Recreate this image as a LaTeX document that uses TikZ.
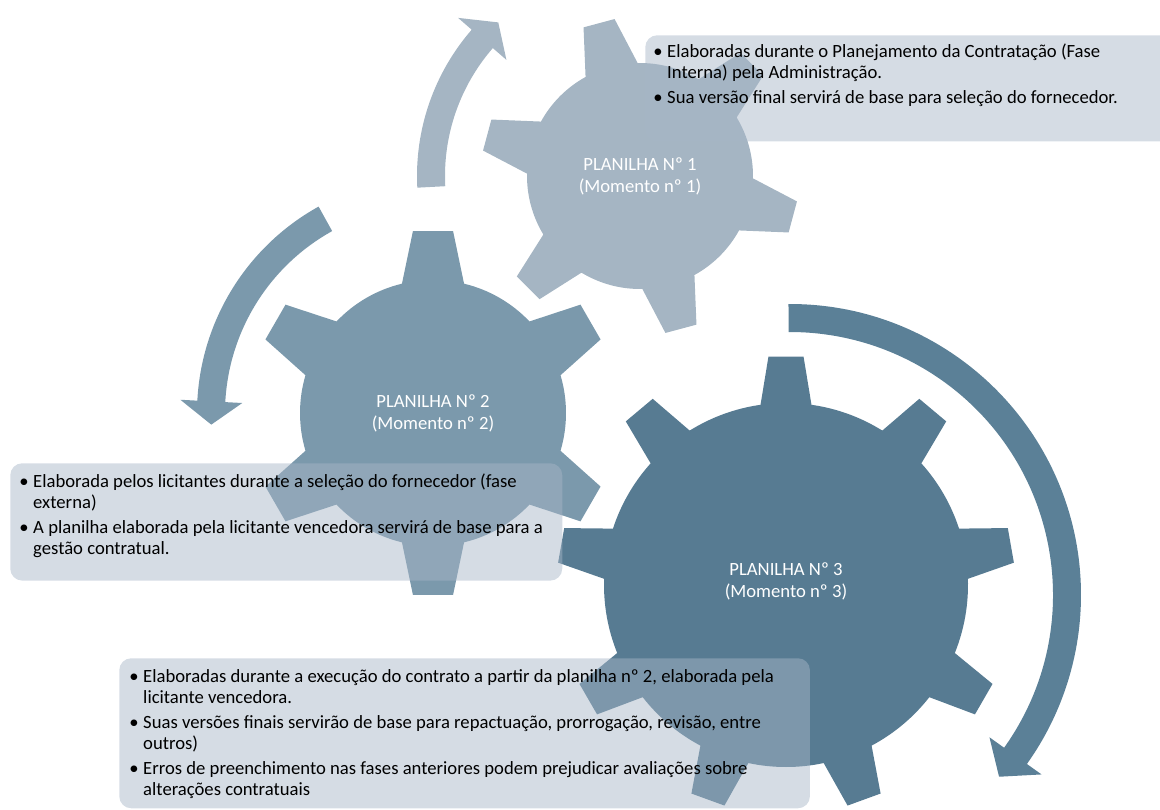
\documentclass[tikz,border=0pt]{standalone}
\usepackage{fontspec}
\setmainfont{Carlito}

\definecolor{gearA}{RGB}{165,181,195}
\definecolor{gearB}{RGB}{123,153,172}
\definecolor{gearC}{RGB}{87,123,146}
\definecolor{arrowC}{RGB}{91,128,151}
\definecolor{boxfill}{RGB}{167,182,199}

% colour, centre, teeth, body radius, tip radius, base half angle, tip half angle, first tooth
\newcommand{\gear}[8]{%
	\fill[#1, shift={#2}] ({#8+#6}:#4)
		\foreach \k in {1,...,#3}{
			arc[start angle={#8+(\k-1)*360/#3+#6}, end angle={#8+\k*360/#3-#6}, radius=#4]
			-- ({#8+\k*360/#3-#7}:#5) -- ({#8+\k*360/#3+#7}:#5)
			-- ({#8+\k*360/#3+#6}:#4)
		} -- cycle;
}

% colour, centre, mid radius, half width, start angle, head angle, tip angle, barb
\newcommand{\turnarrow}[8]{%
	\fill[#1, shift={#2}] ({#5}:{#3+#4}) arc[start angle=#5, end angle=#6, radius={#3+#4}]
		-- ({#6}:{#3+#8}) -- ({#7}:#3) -- ({#6}:{#3-#8}) -- ({#6}:{#3-#4})
		arc[start angle=#6, end angle=#5, radius={#3-#4}] -- cycle;
}

\begin{document}
\begin{tikzpicture}[x=0.75pt, y=0.75pt]
		\tikzset{lbl/.style={text=white, align=center, font=\fontsize{14}{16.5}\selectfont}};
		\tikzset{box/.style={fill=boxfill, fill opacity=0.48, rounded corners=9pt, anchor=north west, inner sep=0pt}};
		\tikzset{note/.style={anchor=base west, inner sep=0pt, font=\fontsize{14}{15.75}\selectfont}};

		\useasboundingbox (0,0) rectangle (1160,-810);

		\gear{gearA}{(640,-176)}{6}{113}{159}{13.8}{5.8}{105}
		\gear{gearB}{(433,-413)}{6}{133}{183}{13.5}{6.3}{90}
		\gear{gearC}{(786,-585)}{9}{182}{229}{8.05}{4.4}{90}

		\turnarrow{gearA}{(640,-176)}{209}{14}{183}{139}{132.7}{32}
		\turnarrow{gearB}{(433,-413)}{222}{14}{119}{177}{183}{31}
		\turnarrow{arrowC}{(790,-595)}{277}{14}{90.3}{-35.5}{-41}{32}

		\node[lbl] (p1) at (640,-176) {PLANILHA Nº 1\\(Momento nº 1)};
		\node[lbl] (p2) at (433,-413) {PLANILHA Nº 2\\(Momento nº 2)};
		\node[lbl] (p3) at (786,-581) {PLANILHA Nº 3\\(Momento nº 3)};

		\node[box, minimum width=397.5pt, minimum height=79.5pt] (b1) at (645,-35) {};
		\node[box, minimum width=414pt, minimum height=88pt] (b2) at (10,-463) {};
		\node[box, minimum width=518pt, minimum height=112.5pt] (b3) at (119,-658) {};

		\node[note] (n1) at (653,-57) {\begin{tabular}[t]{@{}l@{\hspace{3.5pt}}l@{}}
			\textbullet & Elaboradas durante o Planejamento da Contratação (Fase\\
			& Interna) pela Administração.\\[3pt]
			\textbullet & Sua versão final servirá de base para seleção do fornecedor.
		\end{tabular}};

		\node[note] (n2) at (19,-487) {\begin{tabular}[t]{@{}l@{\hspace{3.5pt}}l@{}}
			\textbullet & Elaborada pelos licitantes durante a seleção do fornecedor (fase\\
			& externa)\\[3pt]
			\textbullet & A planilha elaborada pela licitante vencedora servirá de base para a\\
			& gestão contratual.
		\end{tabular}};

		\node[note] (n3) at (129,-682) {\begin{tabular}[t]{@{}l@{\hspace{3.5pt}}l@{}}
			\textbullet & Elaboradas durante a execução do contrato a partir da planilha nº 2, elaborada pela\\
			& licitante vencedora.\\[3pt]
			\textbullet & Suas versões finais servirão de base para repactuação, prorrogação, revisão, entre\\
			& outros)\\[3pt]
			\textbullet & Erros de preenchimento nas fases anteriores podem prejudicar avaliações sobre\\
			& alterações contratuais
		\end{tabular}};

	\end{tikzpicture}
\end{document}
